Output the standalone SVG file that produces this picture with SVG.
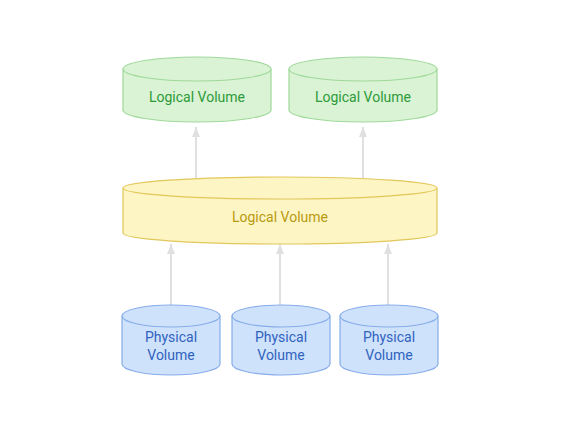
<svg xmlns="http://www.w3.org/2000/svg" width="562" height="424" viewBox="0 0 562 424">
<defs>
<style>
.g path,.g ellipse{fill:#d9f3d4;stroke:#9fd99a;stroke-width:1.2}
.y path,.y ellipse{fill:#fdf5c4;stroke:#e2c75a;stroke-width:1.2}
.b path,.b ellipse{fill:#cfe2fb;stroke:#86acea;stroke-width:1.2}
text{font-family:Roboto,"Liberation Sans",sans-serif;font-size:14px;text-anchor:middle}
.g text{fill:#2e9a3a}
.y text{fill:#b89a10}
.b text{fill:#2f63c0}
.conn line{stroke:#e0e0e0;stroke-width:2;marker-end:url(#ah)}
</style>
<marker id="ah" markerWidth="10" markerHeight="8" refX="10" refY="4" orient="auto" markerUnits="userSpaceOnUse" viewBox="0 0 10 8">
<path d="M0,0 L10,4 L0,8 z" fill="#e0e0e0"/>
</marker>
</defs>
<rect width="562" height="424" fill="#ffffff"/>
<g class="conn">
<line x1="196" y1="178" x2="196" y2="127"/>
<line x1="363" y1="178" x2="363" y2="127"/>
<line x1="171" y1="305" x2="171" y2="244"/>
<line x1="280" y1="305" x2="280" y2="244"/>
<line x1="388" y1="305" x2="388" y2="244"/>
</g>
<g id="lv1" class="g">
<path d="M123,69 V110 A74,12 0 0 0 271,110 V69"/>
<ellipse cx="197" cy="69" rx="74" ry="12"/>
<text x="197" y="102">Logical Volume</text>
</g>
<g id="lv2" class="g">
<path d="M289,69 V110 A74,12 0 0 0 437,110 V69"/>
<ellipse cx="363" cy="69" rx="74" ry="12"/>
<text x="363" y="102">Logical Volume</text>
</g>
<g id="vg" class="y">
<path d="M123,188 V233 A157,11 0 0 0 437,233 V188"/>
<ellipse cx="280" cy="188" rx="157" ry="11"/>
<text x="280" y="222">Logical Volume</text>
</g>
<g id="pv1" class="b">
<path d="M122,316 V364 A49,11 0 0 0 220,364 V316"/>
<ellipse cx="171" cy="316" rx="49" ry="11"/>
<text x="171" y="342">Physical</text>
<text x="171" y="360">Volume</text>
</g>
<g id="pv2" class="b">
<path d="M232,316 V364 A49,11 0 0 0 330,364 V316"/>
<ellipse cx="281" cy="316" rx="49" ry="11"/>
<text x="281" y="342">Physical</text>
<text x="281" y="360">Volume</text>
</g>
<g id="pv3" class="b">
<path d="M340,316 V364 A49,11 0 0 0 438,364 V316"/>
<ellipse cx="389" cy="316" rx="49" ry="11"/>
<text x="389" y="342">Physical</text>
<text x="389" y="360">Volume</text>
</g>
</svg>
